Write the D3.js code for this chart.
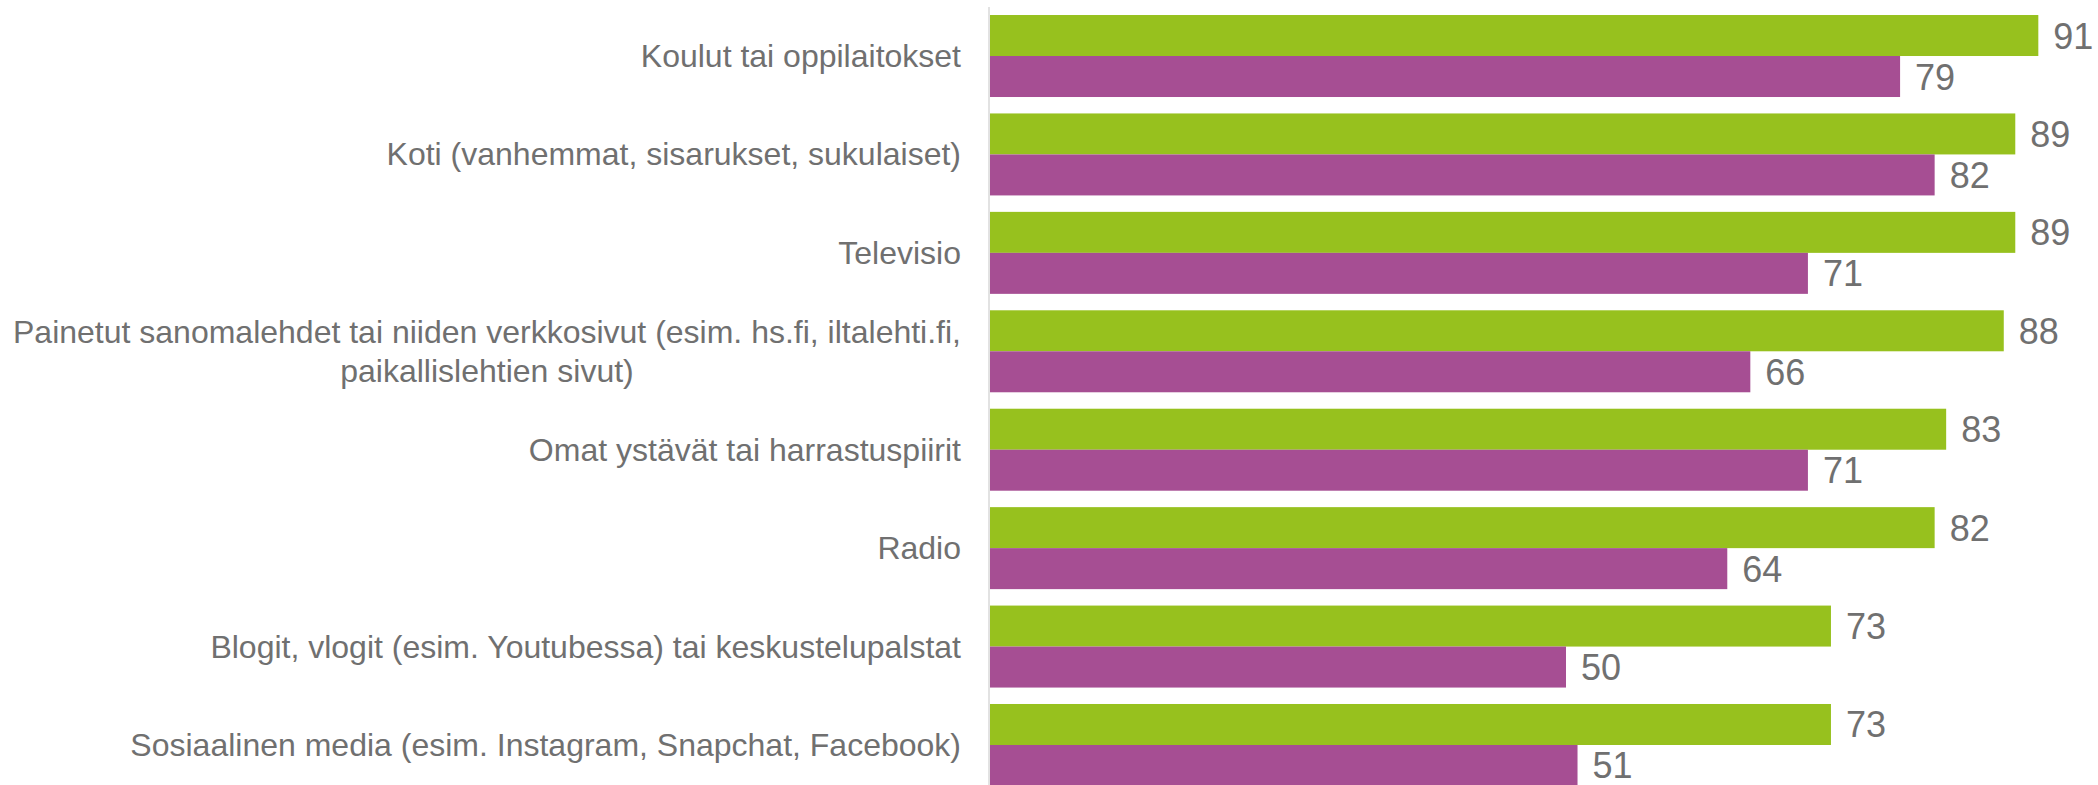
<!DOCTYPE html>
<html>
<head>
<meta charset="utf-8">
<script src="https://cdn.jsdelivr.net/npm/d3@7"></script>
<style>
  html, body { margin: 0; padding: 0; background: #fff; }
  svg { display: block; }
  text { font-family: "Liberation Sans", Arial, sans-serif; }
</style>
</head>
<body>
<svg id="chart" width="2098" height="785"></svg>
<script>
const categories = [
  ["Koulut tai oppilaitokset"],
  ["Koti (vanhemmat, sisarukset, sukulaiset)"],
  ["Televisio"],
  ["Painetut sanomalehdet tai niiden verkkosivut (esim. hs.fi, iltalehti.fi,", "paikallislehtien sivut)"],
  ["Omat ystävät tai harrastuspiirit"],
  ["Radio"],
  ["Blogit, vlogit (esim. Youtubessa) tai keskustelupalstat"],
  ["Sosiaalinen media (esim. Instagram, Snapchat, Facebook)"]
];
const seriesNames = ["Sarja 1", "Sarja 2"];
const series1 = [91, 89, 89, 88, 83, 82, 73, 73];
const series2 = [79, 82, 71, 66, 71, 64, 50, 51];

const colors = ["#97c11e", "#a64e93"];
const textColor = "#707070";
const W = 2098, H = 785;
const svg = d3.select("#chart");

const keys = categories.map((c, i) => i);
const y = d3.scaleBand().domain(keys).range([6.8, 794.2]).paddingInner(0.167).paddingOuter(0.0835);
const ySub = d3.scaleBand().domain([0, 1]).range([0, y.bandwidth()]);
const x = d3.scaleLinear().domain([0, 100]).range([990, 2142]);

const data = keys.map(i => ({ i, vals: [series1[i], series2[i]] }));

// axis line
svg.append("line")
  .attr("x1", 989).attr("x2", 989)
  .attr("y1", 7).attr("y2", H)
  .attr("stroke", "#d9d9d9").attr("stroke-width", 1.5);

const g = svg.selectAll("g.cat").data(data).join("g")
  .attr("class", "cat")
  .attr("transform", d => `translate(0,${y(d.i)})`);

g.selectAll("rect").data(d => d.vals.map((v, s) => ({ v, s }))).join("rect")
  .attr("x", x(0))
  .attr("y", d => ySub(d.s))
  .attr("width", d => x(d.v) - x(0))
  .attr("height", ySub.bandwidth())
  .attr("fill", d => colors[d.s]);

g.selectAll("text.val").data(d => d.vals.map((v, s) => ({ v, s }))).join("text")
  .attr("class", "val")
  .attr("x", d => x(d.v) + 15)
  .attr("y", d => ySub(d.s) + ySub.bandwidth() / 2 + 13)
  .attr("font-size", 36)
  .attr("fill", textColor)
  .text(d => d.v);

// category labels
const labelRight = 961;
const lh = 38.5;
const cats = svg.selectAll("text.cat").data(keys).join("text")
  .attr("class", "cat")
  .attr("font-size", 32)
  .attr("fill", textColor)
  .attr("text-anchor", "middle");

cats.each(function(i) {
  const t = d3.select(this);
  const lines = categories[i];
  const cy = y(i) + y.bandwidth() / 2;
  const tsp = lines.map((l, k) => t.append("tspan")
    .attr("y", cy + 11 + (k - (lines.length - 1) / 2) * lh)
    .text(l));
  const maxW = d3.max(tsp, s => s.node().getComputedTextLength());
  tsp.forEach(s => s.attr("x", labelRight - maxW / 2));
});
</script>
</body>
</html>
